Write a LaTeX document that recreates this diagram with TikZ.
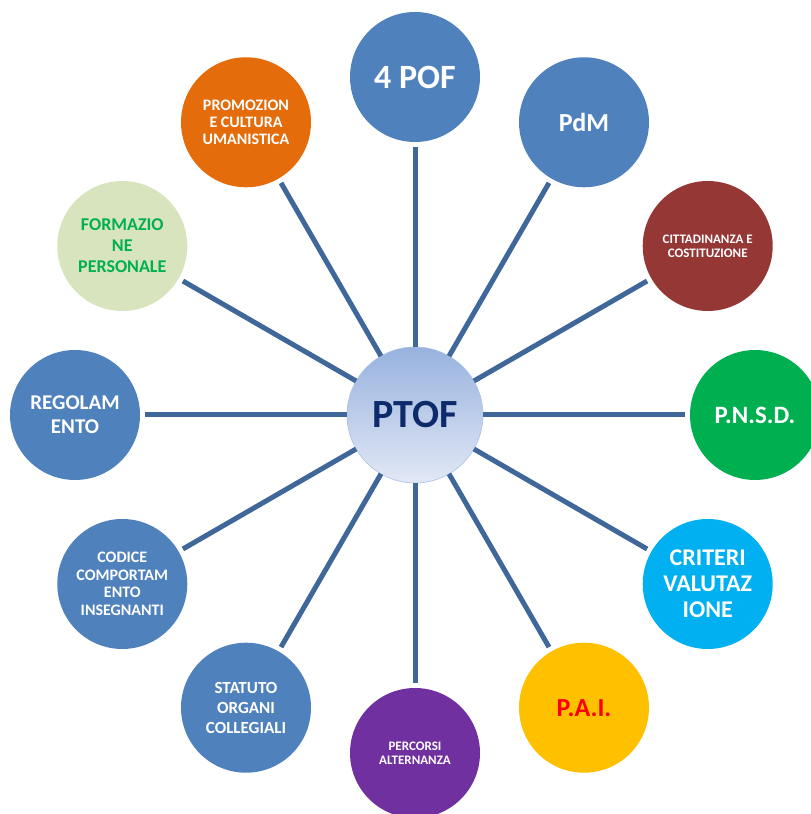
\documentclass[tikz,border=0pt]{standalone}
\usepackage{fontspec}
\usetikzlibrary{calc}
\setmainfont{Carlito}
\definecolor{spokec}{HTML}{3F679A}
\definecolor{blu}{HTML}{4F81BD}
\definecolor{arancio}{HTML}{E46C0A}
\definecolor{verdechiaro}{HTML}{D7E4BD}
\definecolor{verde}{HTML}{00B050}
\definecolor{rosso}{HTML}{953735}
\definecolor{azzurro}{HTML}{00B0F0}
\definecolor{giallo}{HTML}{FFC000}
\definecolor{viola}{HTML}{7030A0}
\definecolor{navy}{HTML}{0D2A6B}
\definecolor{ptoftop}{HTML}{97B2DE}
\definecolor{ptofbot}{HTML}{E2E8F5}
\newcommand{\fs}[2]{\fontsize{#1}{#2}\selectfont\bfseries}
\tikzset{
  bubble/.style={circle, minimum size=130pt, inner sep=0pt, outer sep=0pt, align=center, text=white},
  spoke/.style={draw=spokec, line width=5pt, shorten >=5pt}
}
\begin{document}
\begin{tikzpicture}[x=1pt,y=1pt]
\clip (0,0) rectangle (811,814);
\useasboundingbox (0,0) rectangle (811,814);
\coordinate (c) at (415,399);
\node[circle, minimum size=136pt, inner sep=0pt, outer sep=0pt, top color=ptoftop, bottom color=ptofbot, draw=ptoftop!80!white, line width=0.6pt, text=navy, font=\fs{40}{44}] (ptof) at (c) {PTOF};
\node[bubble, fill=blu, font=\fs{34}{38}] (pof) at ($(c)+(90:338)$) {4 POF};
\node[bubble, fill=blu, font=\fs{26}{30}] (pdm) at ($(c)+(60:338)$) {PdM};
\node[bubble, fill=rosso, font=\fs{13}{14}] (citt) at ($(c)+(30:338)$) {CITTADINANZA E\\COSTITUZIONE};
\node[bubble, fill=verde, font=\fs{25}{28}] (pnsd) at ($(c)+(0:340)$) {P.N.S.D.};
\node[bubble, fill=azzurro, font=\fs{24}{26}] (crit) at ($(c)+(-30:338)$) {CRITERI\\VALUTAZ\\IONE};
\node[bubble, fill=giallo, text=red, font=\fs{26}{30}] (pai) at ($(c)+(-60:338)$) {P.A.I.};
\node[bubble, fill=viola, font=\fs{13}{14.5}] (perc) at ($(c)+(-90:338)$) {PERCORSI\\ALTERNANZA};
\node[bubble, fill=blu, font=\fs{17}{20}] (stat) at ($(c)+(-120:338)$) {STATUTO\\ORGANI\\COLLEGIALI};
\node[bubble, fill=blu, font=\fs{16}{17.5}] (cod) at ($(c)+(-150:338)$) {CODICE\\COMPORTAM\\ENTO\\INSEGNANTI};
\node[bubble, fill=blu, font=\fs{21}{24}] (reg) at ($(c)+(180:340)$) {REGOLAM\\ENTO};
\node[bubble, fill=verdechiaro, text=verde, font=\fs{18}{21}] (form) at ($(c)+(150:338)$) {FORMAZIO\\NE\\PERSONALE};
\node[bubble, fill=arancio, font=\fs{16}{17}] (prom) at ($(c)+(120:338)$) {PROMOZION\\E CULTURA\\UMANISTICA};
\foreach \n in {pof,pdm,citt,pnsd,crit,pai,perc,stat,cod,reg,form,prom}{
  \draw[spoke] (ptof) -- (\n);
}
\end{tikzpicture}
\end{document}
